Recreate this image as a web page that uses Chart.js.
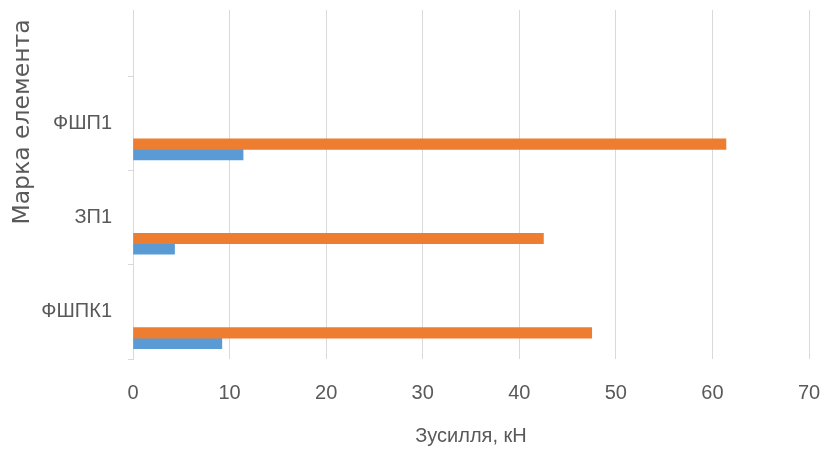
<!DOCTYPE html>
<html>
<head>
<meta charset="utf-8">
<script src="https://cdn.jsdelivr.net/npm/chart.js@4/dist/chart.umd.min.js"></script>
<style>
  html, body { margin: 0; padding: 0; background: #ffffff; }
  #wrap { width: 822px; height: 450px; }
</style>
</head>
<body>
<div id="wrap"><canvas id="chart" width="822" height="450"></canvas></div>
<script>
// Elements, listed from the bottom of the axis upwards
const categories = ['ФШПК1', 'ЗП1', 'ФШП1'];
// Forces, kN
const seriesBlue = [9.2, 4.3, 11.4];
const seriesOrange = [47.5, 42.5, 61.4];
// Unused workbook columns that still reserve a slot in each group
const emptySeries = [[], [], [], [], []];
const xTicks = [0, 10, 20, 30, 40, 50, 60, 70];

const TEXT = '#595959';
const GRID = '#d9d9d9';

const toPoints = vals => vals.map((v, i) => ({ x: v, y: i + 1 }));

const datasets = [];
emptySeries.forEach((vals, k) => {
  datasets.push({ label: 'Ряд ' + (k + 3), data: toPoints(categories.map((c, i) => vals[i] ?? null)) });
});
datasets.push({ label: 'Ряд 2', data: toPoints(seriesOrange), backgroundColor: '#ED7D31' });
datasets.push({ label: 'Ряд 1', data: toPoints(seriesBlue), backgroundColor: '#5B9BD5' });

new Chart(document.getElementById('chart'), {
  type: 'bar',
  data: { datasets },
  options: {
    indexAxis: 'y',
    responsive: false,
    animation: false,
    barThickness: 10.5,
    layout: { padding: { top: 10, right: 13, bottom: 0, left: 0 } },
    plugins: { legend: { display: false }, tooltip: { enabled: false } },
    datasets: { bar: { borderWidth: 0, grouped: true } },
    scales: {
      x: {
        type: 'linear',
        min: xTicks[0],
        max: xTicks[xTicks.length - 1],
        afterBuildTicks: s => { s.ticks = xTicks.map(v => ({ value: v })); },
        afterFit: s => { s.height = 91; s.paddingLeft = 0; s.paddingRight = 0; },
        grid: { color: GRID, lineWidth: 1, drawTicks: false },
        border: { display: false },
        ticks: { color: TEXT, font: { family: 'Liberation Sans', size: 20 }, padding: 22 },
        title: {
          display: true,
          text: 'Зусилля, кН',
          color: TEXT,
          font: { family: 'Liberation Sans', size: 20 },
          padding: { top: 2, bottom: 2 }
        }
      },
      y: {
        type: 'linear',
        offset: false,
        min: 0.5,
        max: 4.2,
        afterBuildTicks: s => {
          const t = [];
          for (let i = 0; i <= categories.length; i++) {
            t.push({ value: i + 0.5 });
            if (i < categories.length) t.push({ value: i + 1 });
          }
          s.ticks = t;
        },
        afterFit: s => { s.width = 133; s.paddingTop = 0; s.paddingBottom = 0; },
        grid: {
          offset: false,
          drawOnChartArea: false,
          drawTicks: true,
          tickLength: 5,
          color: ctx => (ctx.tick && Number.isInteger(ctx.tick.value)) ? 'rgba(0,0,0,0)' : GRID
        },
        border: { display: true, color: GRID },
        ticks: {
          color: TEXT,
          font: { family: 'Liberation Sans', size: 20 },
          padding: 16,
          autoSkip: false,
          callback: v => Number.isInteger(v) ? categories[v - 1] : ''
        },
        title: {
          display: true,
          text: 'Марка елемента\u2009\u2009',
          align: 'end',
          color: TEXT,
          font: { family: 'DejaVu Sans', size: 23.5 },
          padding: { top: 9, bottom: 9 }
        }
      }
    }
  }
});
</script>
</body>
</html>
